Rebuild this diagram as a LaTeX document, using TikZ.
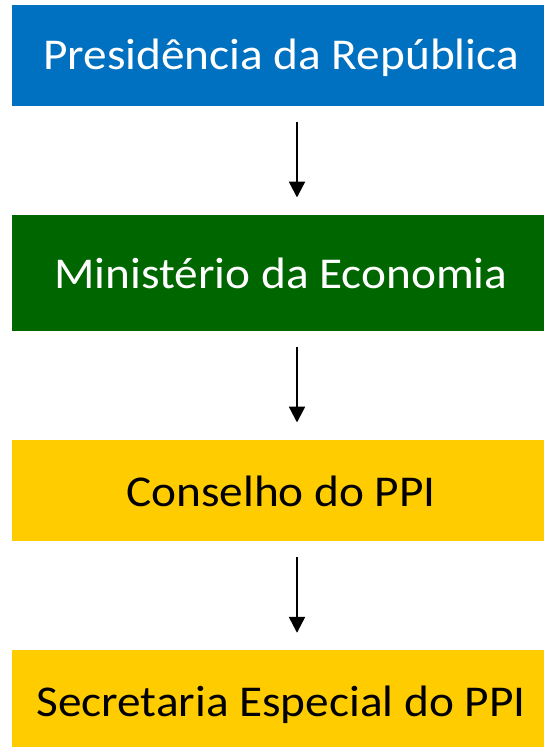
\documentclass[tikz,border=0pt]{standalone}
\usepackage{fontspec}
\usepackage{graphicx}
\setmainfont{Carlito}
\usetikzlibrary{arrows.meta}
\definecolor{boxblue}{HTML}{0070C0}
\definecolor{boxgreen}{HTML}{006600}
\definecolor{boxyellow}{HTML}{FFCC00}
\newcommand{\boxtext}[2]{\raisebox{-#1pt}{\hspace*{6pt}\scalebox{1.075}[1]{#2}}}
\tikzset{
  orgbox/.style={rectangle, inner sep=0pt, minimum width=532pt, text height=28pt, text depth=0pt, font=\fontsize{44}{52}\selectfont},
  flowarrow/.style={line width=2.4pt, -{Triangle[width=16pt,length=16pt]}}
}
\begin{document}
\begin{tikzpicture}[x=1pt,y=-1pt]
\useasboundingbox (0,0) rectangle (544,747);
\node[orgbox, fill=boxblue, text=white, minimum height=100.7pt] (b1) at (278,55.35) {\boxtext{0.5}{Presidência da República}};
\node[orgbox, fill=boxgreen, text=white, minimum height=115.7pt] (b2) at (278,272.85) {\boxtext{2}{Ministério da Economia}};
\node[orgbox, fill=boxyellow, text=black, minimum height=101pt] (b3) at (278,490.5) {\boxtext{2}{Conselho do PPI}};
\node[orgbox, fill=boxyellow, text=black, minimum height=97pt] (b4) at (278,698.5) {\boxtext{3.5}{Secretaria Especial do PPI}};
\draw[flowarrow, shorten <=16.3pt, shorten >=17.3pt] ([xshift=19pt]b1.south) -- ([xshift=19pt]b2.north);
\draw[flowarrow, shorten <=16.3pt, shorten >=17.3pt] ([xshift=19pt]b2.south) -- ([xshift=19pt]b3.north);
\draw[flowarrow, shorten <=16pt, shorten >=17pt] ([xshift=19pt]b3.south) -- ([xshift=19pt]b4.north);
\end{tikzpicture}
\end{document}
